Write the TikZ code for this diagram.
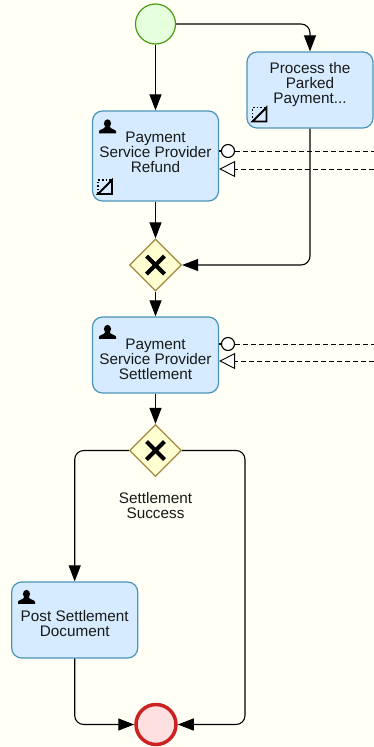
\documentclass[tikz,border=0pt]{standalone}
\usepackage{fontspec}
\setmainfont{Liberation Sans}
\usetikzlibrary{arrows.meta, shapes.geometric, positioning, calc}
\definecolor{pagebg}{HTML}{FFFFF6}
\definecolor{taskfill}{HTML}{D6EBFF}
\definecolor{taskline}{HTML}{4A94BA}
\definecolor{startfill}{HTML}{E6FFDD}
\definecolor{startline}{HTML}{4A9A12}
\definecolor{gatefill}{HTML}{FFFFD2}
\definecolor{gateline}{HTML}{A08840}
\definecolor{endfill}{HTML}{FFE0E0}
\definecolor{endline}{HTML}{CC2222}
\tikzset{
  taskbox/.style={draw=taskline, fill=taskfill, line width=1.2pt, rounded corners=10pt, minimum width=126pt, minimum height=76pt, inner sep=0pt},
  tasktext/.style={align=center, inner sep=0pt, font=\fontsize{15.3}{15}\selectfont, text=black!90},
  startevent/.style={circle, draw=startline, fill=startfill, line width=1.2pt, minimum size=40pt, inner sep=0pt},
  endevent/.style={circle, draw=endline, fill=endfill, line width=3.5pt, minimum size=40pt, inner sep=0pt},
  gateway/.style={diamond, aspect=1, draw=gateline, fill=gatefill, line width=1.2pt, minimum size=52pt, inner sep=0pt},
  seqflow/.style={-{Triangle[length=16pt,width=12pt]}, line width=1.1pt, rounded corners=9pt},
  msgflow/.style={line width=0.9pt, dash pattern=on 5pt off 3pt},
  msgcircle/.style={circle, draw, fill=white, line width=1.1pt, minimum size=13pt, inner sep=0pt},
  msgopen/.style={-{Triangle[open,length=16pt,width=16pt,fill=white]}},
  pics/usericon/.style={code={
    \fill (0,-3) ellipse (3.6 and 4.2);
    \fill (-8.5,6.8) -- (-8.5,4.8) .. controls (-8.5,2.8) and (-3,3) .. (-2.2,0) -- (2.2,0) .. controls (3,3) and (8.5,2.8) .. (8.5,4.8) -- (8.5,6.8) -- cycle;
  }},
  pics/parkmarker/.style={code={
    \draw[line width=1.6pt, dotted] (-7,7) -- (-7,-7) -- (7,-7);
    \draw[line width=1.8pt] (7,-7) -- (7,7) -- (-7,7) -- cycle;
  }},
  pics/gatecross/.style={code={
    \draw[line width=4.2pt] (-9,-9) -- (9,9) (-9,9) -- (9,-9);
  }}
}

\begin{document}
\begin{tikzpicture}[x=1pt,y=-1pt]

        % Nền
        \fill[pagebg] (0,0) rectangle (374,747);
        \useasboundingbox (0,0) rectangle (374,747);

        % Sự kiện đầu, cuối
        \node[startevent] (start) at (155.5,24) {};
        \node[endevent] (finish) at (156,724.5) {};

        % Các task
        \node[taskbox] (process) at (310,90) {};
        \node[taskbox, minimum height=90pt] (refund) at (155.5,156) {};
        \node[taskbox] (settlement) at (155.5,355) {};
        \node[taskbox] (post) at (74.7,620) {};

        % Chữ trong task
        \node[tasktext] (processtext) at (310,85) {Process the\\Parked\\Payment...};
        \node[tasktext] (refundtext) at (155.5,152) {Payment\\Service Provider\\Refund};
        \node[tasktext] (settlementtext) at (155.5,359) {Payment\\Service Provider\\Settlement};
        \node[tasktext] (posttext) at (74.7,624) {Post Settlement\\Document};

        % Cổng
        \node[gateway] (merge) at (155.5,265) {};
        \node[gateway] (split) at (155.5,450.5) {};
        \pic at (merge) {gatecross};
        \pic at (split) {gatecross};
        \node[tasktext] (splittext) at (155.5,506) {Settlement\\Success};

        % Ký hiệu trong task
        \pic at (107.5,126.5) {usericon};
        \pic at (107.5,332) {usericon};
        \pic at (26.5,597) {usericon};
        \pic at (105,187) {parkmarker};
        \pic at (259.5,114.5) {parkmarker};

        % Luồng tuần tự
        \coordinate (rightbend) at (245,724.5);
        \draw[seqflow] (start) -- (refund);
        \draw[seqflow] (start.east) -| (process.north);
        \draw[seqflow] (refund) -- (merge);
        \draw[seqflow] (process.south) |- (merge.east);
        \draw[seqflow] (merge) -- (settlement);
        \draw[seqflow] (settlement) -- (split);
        \draw[seqflow] (split.west) -| (post.north);
        \draw[seqflow] (post.south) |- (finish.west);
        \draw[seqflow] (split.east) -| (rightbend) -- (finish.east);

        % Luồng thông điệp
        \node[msgcircle] (sendrefund) at (228,151) {};
        \node[msgcircle] (sendsettle) at (228,344) {};
        \coordinate (refundout) at (374,151);
        \coordinate (refundin) at (374,169);
        \coordinate (settleout) at (374,344);
        \coordinate (settlein) at (374,361);
        \coordinate (refundport) at (refund.east |- refundin);
        \coordinate (settleport) at (settlement.east |- settlein);
        \draw[line width=1.1pt] (refund.east |- sendrefund) -- (sendrefund);
        \draw[line width=1.1pt] (settlement.east |- sendsettle) -- (sendsettle);
        \draw[msgflow] (sendrefund) -- (refundout);
        \draw[msgflow] (sendsettle) -- (settleout);
        \draw[msgflow, msgopen] (refundin) -- (refundport);
        \draw[msgflow, msgopen] (settlein) -- (settleport);

\end{tikzpicture}
\end{document}
